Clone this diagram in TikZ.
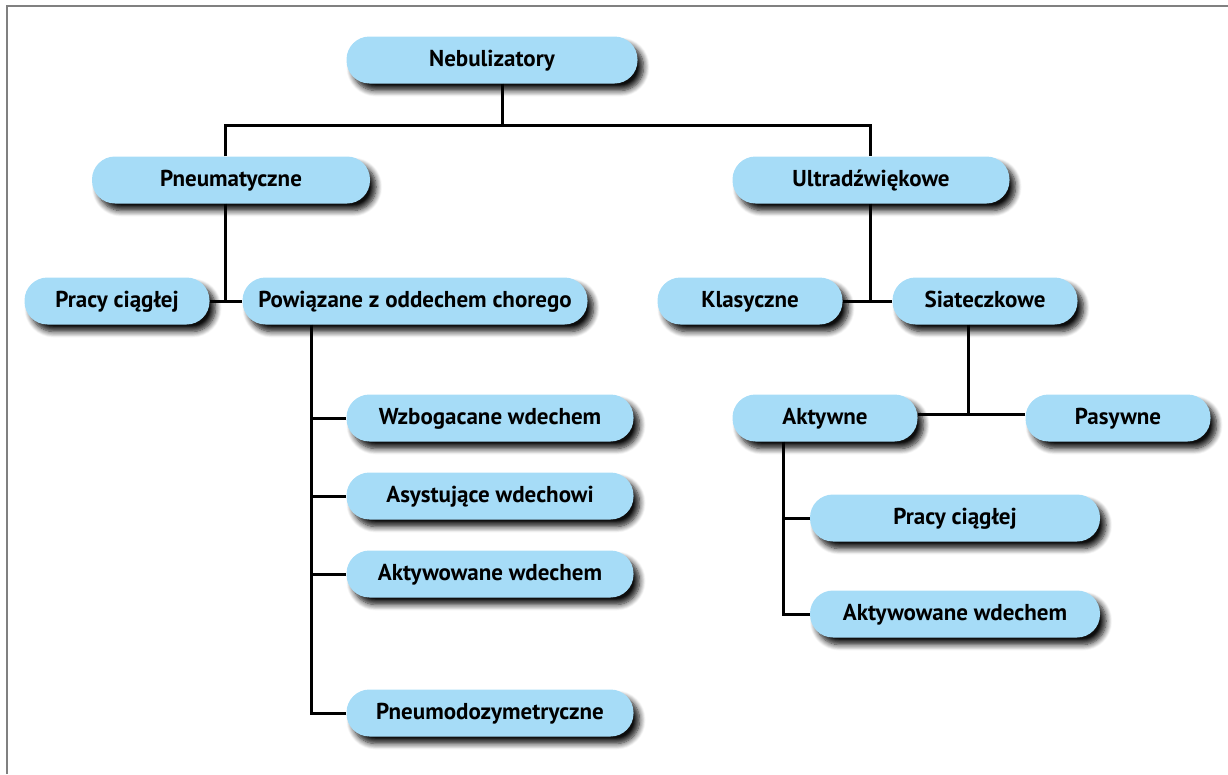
\documentclass[tikz,border=0pt]{standalone}
\usepackage{fontspec}
\setmainfont{PT Sans}
\usetikzlibrary{shadows.blur}
\definecolor{nebblue}{RGB}{166,220,247}
\definecolor{framegray}{RGB}{128,128,128}
\begin{document}
\begin{tikzpicture}[x=1pt,y=-1pt,
  box/.style={rectangle,rounded corners=23pt,fill=nebblue,minimum height=47pt,inner sep=0pt,
    text height=16pt,text depth=3pt,
    font=\fontsize{23}{27}\selectfont\bfseries,
    blur shadow={shadow xshift=6pt,shadow yshift=-7pt,shadow blur radius=6pt,shadow blur steps=8,shadow opacity=95}},
  conn/.style={line width=3pt,black}]
\useasboundingbox (0,0) rectangle (1228,774);
\draw[framegray,line width=2pt] (6.5,774) -- (6.5,6) -- (1228,6);
% level 0 and 1
\node[box,minimum width=291pt] (nebu) at (492,60) {Nebulizatory};
\node[box,minimum width=278pt] (pneu) at (231,180) {Pneumatyczne};
\node[box,minimum width=277pt] (ultra) at (871,180) {Ultradźwiękowe};
% left branch
\node[box,minimum width=185pt] (pracyL) at (117,301) {Pracy ciągłej};
\node[box,minimum width=345pt] (powiaz) at (415,301) {Powiązane z oddechem chorego};
\node[box,minimum width=287pt] (wzbog) at (490,418) {Wzbogacane wdechem};
\node[box,minimum width=287pt] (asyst) at (490,496) {Asystujące wdechowi};
\node[box,minimum width=287pt] (aktwdL) at (490,574) {Aktywowane wdechem};
\node[box,minimum width=287pt] (pneumo) at (490,713) {Pneumodozymetryczne};
% right branch
\node[box,minimum width=185pt] (klas) at (750,301) {Klasyczne};
\node[box,minimum width=185pt] (siat) at (985,301) {Siateczkowe};
\node[box,minimum width=185pt] (aktyw) at (825,418) {Aktywne};
\node[box,minimum width=185pt] (pasyw) at (1118,418) {Pasywne};
\node[box,minimum width=290pt] (pracyR) at (955,518) {Pracy ciągłej};
\node[box,minimum width=290pt] (aktwdR) at (955,614) {Aktywowane wdechem};
% connectors
\coordinate (jtop) at (502,125);
\coordinate (pl) at (225,125);
\coordinate (ul) at (870,125);
\coordinate (pj) at (225,301);
\coordinate (pd) at (311,713);
\coordinate (uj) at (870,301);
\coordinate (sj) at (968,414);
\coordinate (ad) at (783,614);
\draw[conn] (nebu.south -| jtop) -- (jtop);
\draw[conn] (pneu.north -| pl) -- (pl) -- (ul) -- (ultra.north -| ul);
\draw[conn] (pneu.south -| pj) -- (pj);
\draw[conn] (pracyL.east) -- (powiaz.west);
\draw[conn] (powiaz.south -| pd) -- (pd) -- (pneumo.west);
\foreach \n in {wzbog,asyst,aktwdL}
  \draw[conn] (\n.west -| pd) -- (\n.west);
\draw[conn] (ultra.south -| uj) -- (uj);
\draw[conn] (klas.east) -- (siat.west);
\draw[conn] (siat.south -| sj) -- (sj);
\draw[conn] (aktyw.east |- sj) -- (pasyw.west |- sj);
\draw[conn] (aktyw.south -| ad) -- (ad) -- (aktwdR.west);
\draw[conn] (pracyR.west -| ad) -- (pracyR.west);
\end{tikzpicture}
\end{document}
